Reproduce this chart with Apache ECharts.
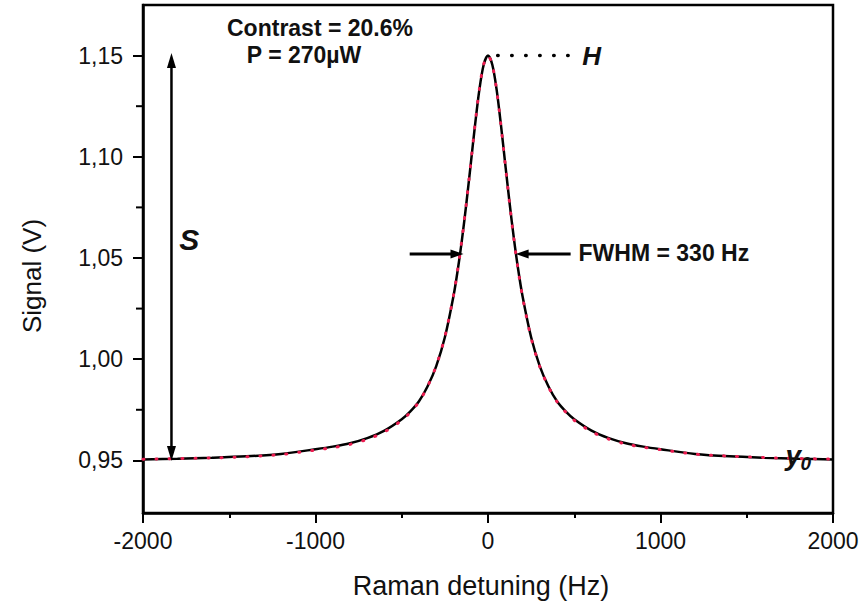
<!DOCTYPE html>
<html><head><meta charset="utf-8">
<script src="https://cdn.jsdelivr.net/npm/echarts@6/dist/echarts.min.js"></script>
<style>html,body{margin:0;padding:0;background:#fff}#c{width:866px;height:606px}</style>
</head><body><div id="c"></div>
<script>
// ---- data ----
const detuning = [-2000,-1800,-1600,-1400,-1200,-1000,-900,-800,-700,-600,-500,-450,-400,-350,-300,-250,-200,-175,-150,-125,-100,-75,-50,-25,0,
  25,50,75,100,125,150,175,200,250,300,350,400,450,500,600,700,800,900,1000,1200,1400,1600,1800,2000];
const fitSignal = [0.9504,0.9508,0.9513,0.9520,0.9532,0.9555,0.9568,0.9585,0.9610,0.9647,0.9703,0.9742,0.9792,0.9866,0.9966,1.0108,1.0312,1.0443,1.0597,1.0773,1.0964,1.1158,1.1332,1.1455,1.1500,
  1.1455,1.1332,1.1158,1.0964,1.0773,1.0597,1.0443,1.0312,1.0108,0.9966,0.9866,0.9792,0.9742,0.9703,0.9647,0.9610,0.9585,0.9568,0.9555,0.9532,0.9520,0.9513,0.9508,0.9504];
const measuredSignal = [0.9506,0.9509,0.9512,0.9518,0.9529,0.9551,0.9563,0.9579,0.9604,0.9641,0.9698,0.9738,0.9790,0.9866,0.9968,1.0111,1.0315,1.0446,1.0599,1.0775,1.0966,1.1160,1.1334,1.1457,1.1500,
  1.1453,1.1330,1.1155,1.0961,1.0770,1.0594,1.0440,1.0309,1.0105,0.9963,0.9864,0.9790,0.9739,0.9698,0.9642,0.9605,0.9581,0.9565,0.9553,0.9531,0.9521,0.9514,0.9509,0.9506];
const xTicks = [-2000,-1000,0,1000,2000];
const yTicks = [0.95,1.00,1.05,1.10,1.15];
const yMinorTicks = [0.975,1.025,1.075,1.125];
const xTitle = 'Raman detuning (Hz)';
const yTitle = 'Signal (V)';
const contrastText = 'Contrast = 20.6%';
const powerText = 'P = 270µW';
const fwhmText = 'FWHM = 330 Hz';
// annotation anchors (data units)
const peak = [0, 1.15];
const sArrow = {x: -1835, top: 1.1513, bottom: 0.9497};
const fwhmArrows = {level: 1.052, leftTail: -454, leftTip: -142, rightTip: 160, rightTail: 479};
const hLine = {from: 56, to: 467};

const FONT = '"Liberation Sans", Arial, Helvetica, sans-serif';
const chart = echarts.init(document.getElementById('c'), null, {renderer: 'svg'});
const pair = (xs, ys) => xs.map((x, i) => [x, ys[i]]);

chart.setOption({
  animation: false,
  backgroundColor: '#fff',
  grid: {left: 143, right: 33, top: 5, bottom: 93, show: true, borderColor: '#000', borderWidth: 2.5, backgroundColor: 'transparent'},
  xAxis: {
    type: 'value', min: -2000, max: 2000, interval: 1000,
    name: xTitle, nameLocation: 'middle', nameGap: 59,
    nameTextStyle: {fontFamily: FONT, fontSize: 27, color: '#111', padding: [0, 14, 0, 0]},
    axisLine: {show: true, onZero: false, lineStyle: {color: '#000', width: 2.5}},
    axisTick: {show: true, length: 10, customValues: xTicks, lineStyle: {color: '#000', width: 2}},
    minorTick: {show: true, splitNumber: 2, length: 5, lineStyle: {color: '#000', width: 2}},
    axisLabel: {fontFamily: FONT, fontSize: 23, color: '#111', margin: 16, customValues: xTicks, formatter: v => String(v)},
    splitLine: {show: false}
  },
  yAxis: {
    type: 'value', min: 0.924, max: 1.175,
    name: yTitle, nameLocation: 'middle', nameGap: 98,
    nameTextStyle: {fontFamily: FONT, fontSize: 26, color: '#111', padding: [0, 34, 0, 0]},
    axisLine: {show: true, onZero: false, lineStyle: {color: '#000', width: 2.5}},
    axisTick: {show: true, length: 10, customValues: yTicks, lineStyle: {color: '#000', width: 2}},
    axisLabel: {fontFamily: FONT, fontSize: 23, color: '#111', margin: 20, customValues: yTicks,
      formatter: v => v.toFixed(2).replace('.', ',')},
    splitLine: {show: false}
  },
  series: [{
    type: 'line', name: 'fit', data: pair(detuning, fitSignal), showSymbol: false, smooth: 0.3,
    lineStyle: {color: '#000', width: 2.5}, z: 2
  }, {
    type: 'line', name: 'data', data: pair(detuning, measuredSignal), showSymbol: false, smooth: 0.3,
    lineStyle: {color: '#ec1c50', width: 3, type: [1, 12], cap: 'round'}, z: 3
  }]
});

function px(x, y) { return chart.convertToPixel({gridIndex: 0}, [x, y]); }
function arrowHead(tip, dir, len, half) {
  const bx = tip[0] - dir[0] * len, by = tip[1] - dir[1] * len;
  const nx = -dir[1], ny = dir[0];
  return {type: 'polygon', shape: {points: [tip, [bx + nx * half, by + ny * half], [bx - nx * half, by - ny * half]]},
    style: {fill: '#000'}, z: 10};
}
const g = [];
// y minor ticks (axis decoration), positioned through the axis scale
yMinorTicks.forEach(v => {
  const p = px(-2000, v);
  g.push({type: 'rect', shape: {x: p[0] - 7, y: p[1] - 1, width: 7, height: 2}, style: {fill: '#000'}, z: 12});
});
const sTop = px(sArrow.x, sArrow.top), sBot = px(sArrow.x, sArrow.bottom);
g.push({type: 'line', shape: {x1: sTop[0], y1: sTop[1] + 10, x2: sBot[0], y2: sBot[1] - 10}, style: {stroke: '#000', lineWidth: 2.5}, z: 10});
g.push(arrowHead(sTop, [0, -1], 15, 4.5));
g.push(arrowHead(sBot, [0, 1], 15, 4.5));
const lT = px(fwhmArrows.leftTail, fwhmArrows.level), lP = px(fwhmArrows.leftTip, fwhmArrows.level);
const rP = px(fwhmArrows.rightTip, fwhmArrows.level), rT = px(fwhmArrows.rightTail, fwhmArrows.level);
g.push({type: 'line', shape: {x1: lT[0], y1: lT[1], x2: lP[0] - 10, y2: lP[1]}, style: {stroke: '#000', lineWidth: 3}, z: 10});
g.push(arrowHead(lP, [1, 0], 13, 4.5));
g.push({type: 'line', shape: {x1: rT[0], y1: rT[1], x2: rP[0] + 10, y2: rP[1]}, style: {stroke: '#000', lineWidth: 3}, z: 10});
g.push(arrowHead(rP, [-1, 0], 13, 4.5));
const h1 = px(hLine.from, peak[1]), h2 = px(hLine.to, peak[1]);
g.push({type: 'line', shape: {x1: h1[0], y1: h1[1], x2: h2[0], y2: h2[1]}, style: {stroke: '#000', lineWidth: 3.5, lineDash: [0.5, 13.5], lineCap: 'round'}, z: 10});
function txt(s, x, y, font, align, vAlign) {
  const p = px(x, y);
  g.push({type: 'text', x: p[0], y: p[1], z: 11,
    style: {text: s, font: font, fill: '#111', textAlign: align || 'left', textVerticalAlign: vAlign || 'middle'}});
}
txt(contrastText, -1513, 1.1634, 'bold 23px ' + FONT);
txt(powerText, -1398, 1.1503, 'bold 23px ' + FONT);
txt('H', 547, 1.1496, 'italic bold 26px ' + FONT);
txt('S', -1790, 1.0589, 'italic bold 30px ' + FONT);
txt(fwhmText, 525, 1.0525, 'bold 23px ' + FONT);
txt('y', 1724, 0.9591, 'italic bold 28px ' + FONT, 'left', 'alphabetic');
txt('0', 1812, 0.9530, 'italic bold 19px ' + FONT, 'left', 'alphabetic');
chart.setOption({graphic: g});
</script></body></html>
